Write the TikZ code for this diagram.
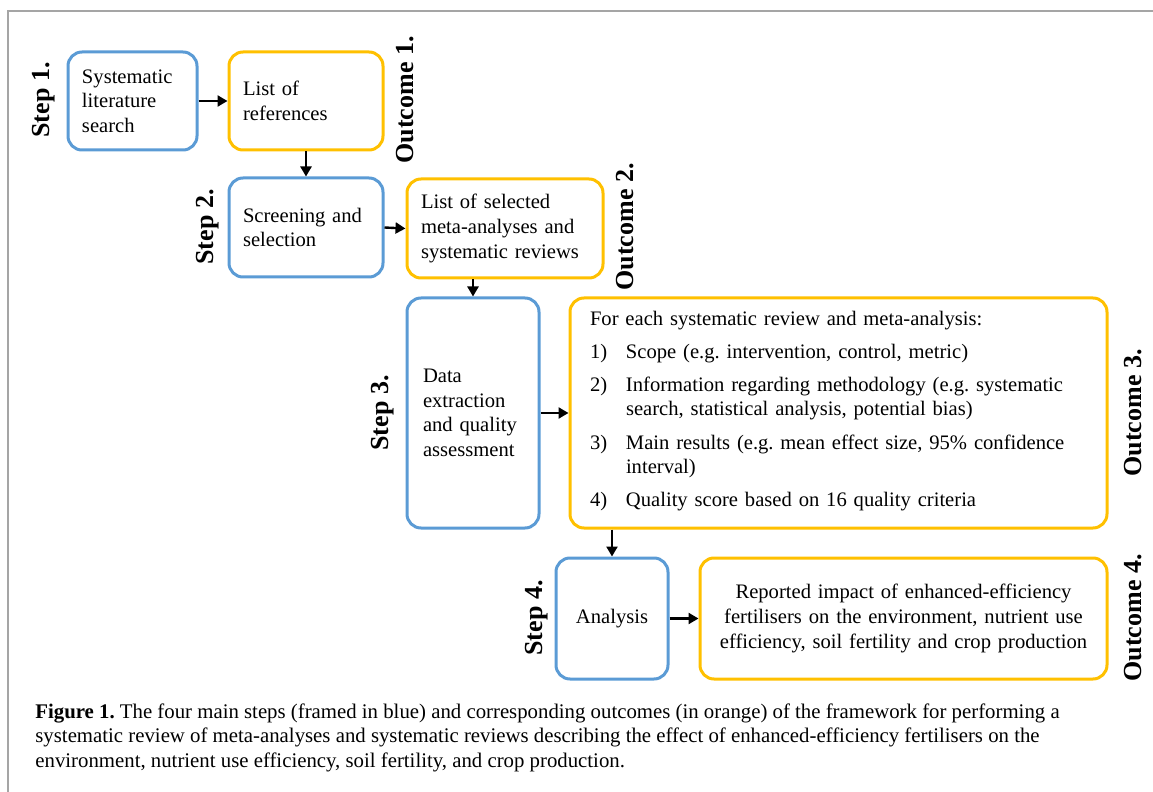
\documentclass[tikz,border=0pt]{standalone}
\usepackage{fontspec}
\setmainfont{Liberation Serif}
\usetikzlibrary{arrows.meta}
\definecolor{stepblue}{RGB}{91,155,213}
\definecolor{outorange}{RGB}{255,192,0}
\definecolor{framegray}{RGB}{165,165,165}
\frenchspacing
\tikzset{
  box/.style={rounded corners=7pt,line width=1.5pt,inner xsep=7pt,inner ysep=0pt,
              font=\fontsize{10.3}{12.3}\selectfont,align=left},
  stepbox/.style={box,draw=stepblue},
  outbox/.style={box,draw=outorange},
  lab/.style={rotate=90,font=\fontsize{13}{15}\selectfont\bfseries},
  arr/.style={line width=1.2pt,-{Triangle[length=5pt,width=5.5pt]}}
}
\begin{document}
\begin{tikzpicture}[x=0.5pt,y=-0.5pt]
\useasboundingbox(0,0)rectangle(1153,792);
\draw[framegray,line width=1pt](8,792)--(8,11)--(1153,11);
\node[stepbox,text width=50.5pt,minimum height=49pt](s1)at(132.5,101){Systematic\\literature\\search};
\node[outbox,text width=63pt,minimum height=49pt](o1)at(306,101){List of\\references};
\node[stepbox,text width=63pt,minimum height=49.5pt](s2)at(306,227.5){Screening and\\selection};
\node[outbox,text width=84pt,minimum height=49.5pt](o2)at(505,228.5){List of selected\\meta-analyses and\\systematic reviews};
\node[stepbox,text width=50pt,inner xsep=8pt,minimum height=115pt](s3)at(473,413){Data\\extraction\\and quality\\assessment};
\node[outbox,text width=248.5pt,inner xsep=10pt,minimum height=115pt](o3)at(838.5,413){For each systematic review and meta-analysis:\\[4.3pt]
\begin{tabular}{@{}p{18pt}@{}p{228pt}@{}}
1) & Scope (e.g. intervention, control, metric)\\[4.3pt]
2) & Information regarding methodology (e.g. systematic\newline search, statistical analysis, potential bias)\\[4.3pt]
3) & Main results (e.g. mean effect size, 95\% confidence\newline interval)\\[4.3pt]
4) & Quality score based on 16 quality criteria
\end{tabular}};
\node[stepbox,text width=42pt,align=center,minimum height=60.5pt](s4)at(612,618.5){Analysis};
\node[outbox,text width=189.5pt,align=center,minimum height=60.5pt](o4)at(903.5,618.5){Reported impact of enhanced-efficiency\\fertilisers on the environment, nutrient use\\efficiency, soil fertility and crop production};
\node[lab](l1)at(44,100){Step 1.};
\node[lab](m1)at(405,100){Outcome 1.};
\node[lab](l2)at(208,227){Step 2.};
\node[lab](m2)at(625,227){Outcome 2.};
\node[lab](l3)at(383,413){Step 3.};
\node[lab](m3)at(1133,413){Outcome 3.};
\node[lab](l4)at(537,618){Step 4.};
\node[lab](m4)at(1133,618){Outcome 4.};
\draw[arr](s1.east)--(o1.west);
\draw[arr](o1.south)--(s2.north);
\draw[arr](s2.east)--(o2.west);
\draw[arr](o2.south-|s3.north)--(s3.north);
\draw[arr](s3.east)--(o3.west);
\draw[arr](o3.south-|s4.north)--(s4.north);
\draw[arr](s4.east)--(o4.west);
\node[anchor=base west,align=left,inner sep=0pt,font=\fontsize{10.4}{12.25}\selectfont](cap)at(35,767){\textbf{Figure 1.} The four main steps (framed in blue) and corresponding outcomes (in orange) of the framework for performing a\\systematic review of meta-analyses and systematic reviews describing the effect of enhanced-efficiency fertilisers on the\\environment, nutrient use efficiency, soil fertility, and crop production.};
\end{tikzpicture}
\end{document}
